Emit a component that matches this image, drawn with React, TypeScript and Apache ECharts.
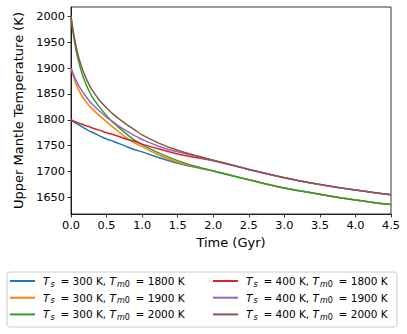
import React, { useEffect, useRef } from "react";
import * as echarts from "echarts";

const TIME = [0, 0.05, 0.1, 0.15, 0.2, 0.25, 0.3, 0.4, 0.5, 0.6, 0.75, 0.9, 1.0, 1.25, 1.5, 1.75, 2.0, 2.5, 3.0, 3.5, 4.0, 4.5];

const TS300_TM1800 = [1800, 1795, 1791, 1787, 1783, 1779, 1776, 1769, 1763, 1758, 1750, 1742, 1738, 1726, 1716, 1708, 1701, 1684, 1668, 1656, 1645, 1636];
const TS300_TM1900 = [1900, 1877, 1860, 1847, 1837, 1828, 1821, 1808, 1796, 1785, 1768, 1755, 1748, 1731, 1718, 1709, 1701, 1684, 1668, 1656, 1645, 1636];
const TS300_TM2000 = [2000, 1950, 1917, 1892, 1872, 1857, 1844, 1825, 1808, 1794, 1776, 1760, 1752, 1735, 1721, 1710, 1701, 1684, 1668, 1656, 1645, 1636];
const TS400_TM1800 = [1800, 1797, 1794, 1792, 1789, 1787, 1784, 1780, 1775, 1771, 1764, 1758, 1753, 1743, 1734, 1727, 1721, 1704, 1688, 1675, 1664, 1655];
const TS400_TM1900 = [1900, 1883, 1868, 1857, 1847, 1838, 1830, 1817, 1805, 1795, 1781, 1769, 1762, 1748, 1738, 1730, 1722, 1704, 1688, 1675, 1664, 1655];
const TS400_TM2000 = [2000, 1957, 1925, 1902, 1884, 1869, 1857, 1838, 1823, 1810, 1794, 1780, 1771, 1754, 1741, 1731, 1722, 1704, 1688, 1675, 1664, 1655];

const SERIES = [
  { ts: 300, tm: 1800, values: TS300_TM1800, color: "#1f77b4" },
  { ts: 300, tm: 1900, values: TS300_TM1900, color: "#ff7f0e" },
  { ts: 300, tm: 2000, values: TS300_TM2000, color: "#2ca02c" },
  { ts: 400, tm: 1800, values: TS400_TM1800, color: "#d62728" },
  { ts: 400, tm: 1900, values: TS400_TM1900, color: "#9467bd" },
  { ts: 400, tm: 2000, values: TS400_TM2000, color: "#8c564b" },
];

const X_LABEL = "Time (Gyr)";
const Y_LABEL = "Upper Mantle Temperature (K)";
const FONT = "DejaVu Sans";

const nameOf = (s: { ts: number; tm: number }) => `Ts${s.ts}_Tm${s.tm}`;

export default function App() {
  const ref = useRef<HTMLDivElement>(null);
  useEffect(() => {
    document.body.style.margin = "0";
    if (!ref.current) return;
    const chart = echarts.init(ref.current, null, { renderer: "svg" });
    const legendText = {
      fontFamily: FONT,
      fontSize: 10.5,
      color: "#000",
      lineHeight: 12,
      rich: {
        it0: { fontFamily: FONT, fontSize: 10.5, fontStyle: "italic", color: "#000", lineHeight: 12, padding: [0, 0, 0, 3] },
        it: { fontFamily: FONT, fontSize: 10.5, fontStyle: "italic", color: "#000", lineHeight: 12 },
        sub: { fontFamily: FONT, fontSize: 8, fontStyle: "italic", color: "#000", lineHeight: 8, padding: [5, 2.5, 0, 1], verticalAlign: "top" },
        subm: { fontFamily: FONT, fontSize: 8, fontStyle: "italic", color: "#000", lineHeight: 8, padding: [5, 0, 0, 1], verticalAlign: "top" },
        sub0: { fontFamily: FONT, fontSize: 8, color: "#000", lineHeight: 8, padding: [5, 2.5, 0, 0], verticalAlign: "top" },
        n: { fontFamily: FONT, fontSize: 10.5, color: "#000", lineHeight: 12 },
      },
    };
    const fmt = (name: string) => {
      const s = SERIES.find((x) => nameOf(x) === name)!;
      return `{it0|T}{sub|s}{n| = ${s.ts} K, }{it|T}{subm|m}{sub0|0}{n| = ${s.tm} K}`;
    };
    const legendBase = {
      orient: "vertical",
      top: 275,
      height: 56,
      padding: 0,
      itemWidth: 25,
      itemHeight: 2,
      itemGap: 3.7,
      icon: "rect",
      formatter: fmt,
      textStyle: legendText,
      selectedMode: false,
    };
    chart.setOption({
      animation: false,
      backgroundColor: "#fff",
      textStyle: { fontFamily: FONT },
      grid: { left: 71, top: 7, width: 320, height: 207, show: true, borderColor: "#000", borderWidth: 0.8, backgroundColor: "transparent" },
      graphic: [
        {
          type: "rect",
          shape: { x: 7, y: 272, width: 390, height: 55, r: 3 },
          style: { fill: "#fff", stroke: "#cccccc", lineWidth: 1 },
          z: -1,
        },
      ],
      legend: [
        { ...legendBase, left: 10, data: SERIES.slice(0, 3).map(nameOf) },
        { ...legendBase, left: 213, data: SERIES.slice(3).map(nameOf) },
      ],
      xAxis: {
        type: "value",
        min: 0,
        max: 4.5,
        interval: 0.5,
        name: X_LABEL,
        nameLocation: "middle",
        nameGap: 19,
        nameTextStyle: { fontFamily: FONT, fontSize: 13, color: "#000" },
        axisLine: { show: true, lineStyle: { color: "#000", width: 0.8 } },
        axisTick: { show: true, length: 3.5, lineStyle: { color: "#000", width: 0.8 } },
        axisLabel: { fontFamily: FONT, fontSize: 11.3, color: "#000", margin: 6, formatter: (v: number) => v.toFixed(1) },
        splitLine: { show: false },
      },
      yAxis: {
        type: "value",
        min: 1617.8,
        max: 2018.2,
        splitNumber: 8,
        name: Y_LABEL,
        nameLocation: "middle",
        nameGap: 41,
        nameTextStyle: { fontFamily: FONT, fontSize: 13, color: "#000" },
        axisLine: { show: true, lineStyle: { color: "#000", width: 0.8 } },
        axisTick: { show: true, length: 3.5, lineStyle: { color: "#000", width: 0.8 } },
        axisLabel: { fontFamily: FONT, fontSize: 11.3, color: "#000", margin: 6, showMinLabel: false, showMaxLabel: false, formatter: (v: number) => String(Math.round(v)) },
        splitLine: { show: false },
      },
      series: SERIES.map((s) => ({
        name: nameOf(s),
        type: "line",
        data: TIME.map((t, i) => [t, s.values[i]]),
        smooth: 0.4,
        symbol: "none",
        lineStyle: { color: s.color, width: 1.5 },
        itemStyle: { color: s.color },
      })),
    });
    return () => chart.dispose();
  }, []);
  return <div ref={ref} style={{ width: 407, height: 334 }} />;
}
